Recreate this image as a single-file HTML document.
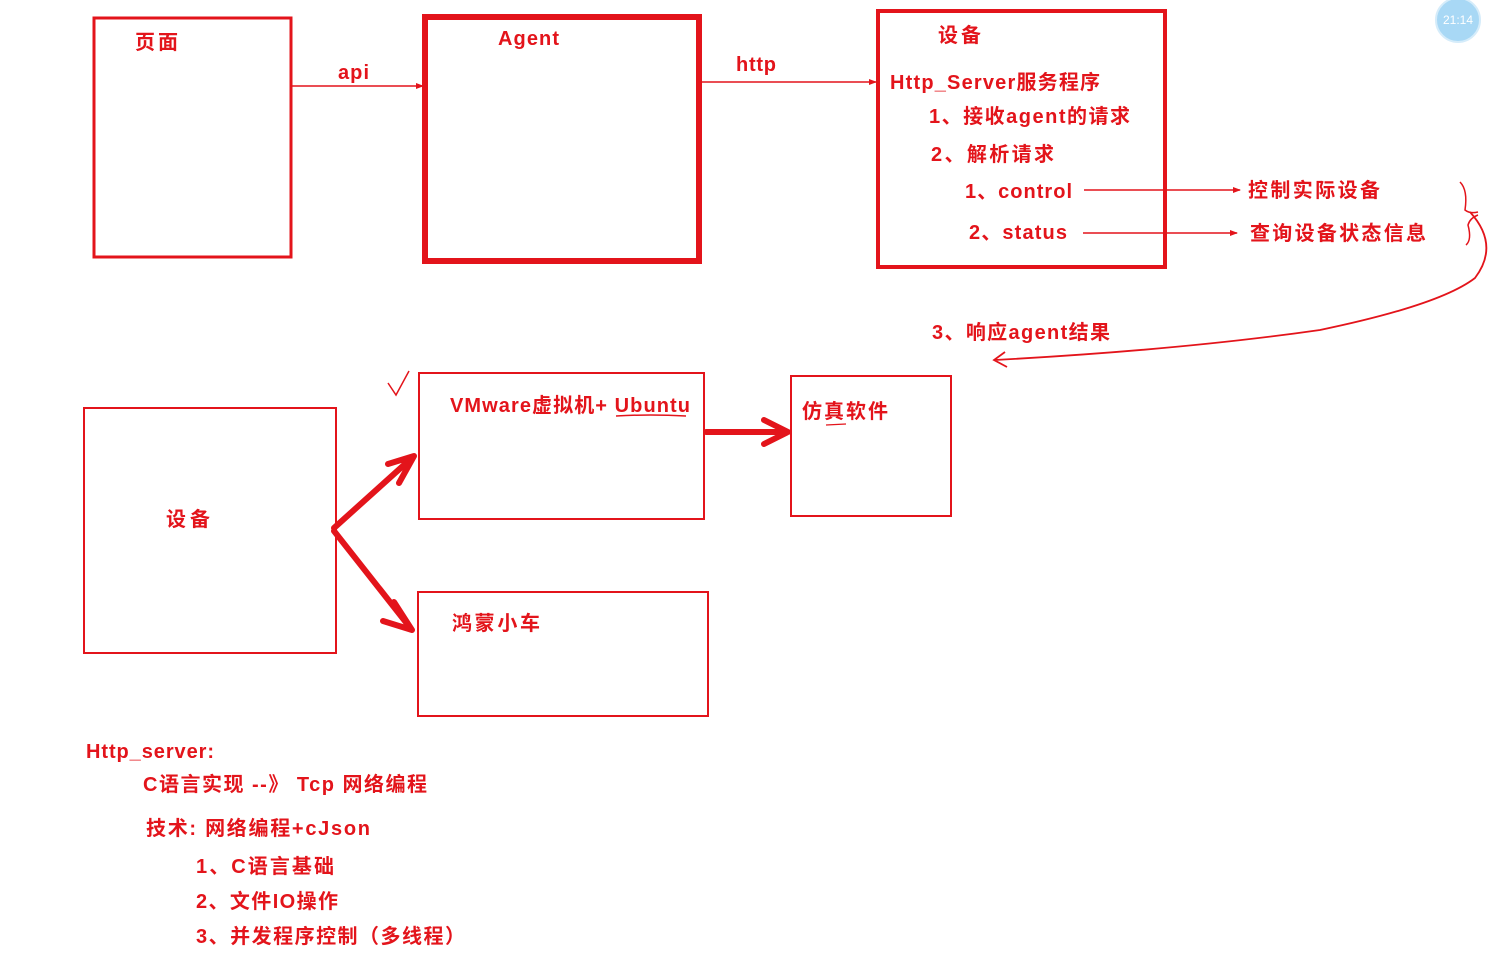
<!DOCTYPE html>
<html><head><meta charset="utf-8"><style>
html,body{margin:0;padding:0;background:#fff;}
svg{display:block;}
text{font-family:"Liberation Sans","Noto Sans CJK SC",sans-serif;font-weight:bold;fill:#e3141b;font-size:20px;}
</style></head><body>
<svg width="1505" height="959" viewBox="0 0 1505 959" xmlns="http://www.w3.org/2000/svg">
<defs>
<marker id="a" markerWidth="8" markerHeight="8" refX="7" refY="4" orient="auto" markerUnits="userSpaceOnUse"><path d="M0,1 L8,4 L0,7 Z" fill="#e3141b"/></marker>
</defs>
<g fill="none" stroke="#e3141b">
<rect x="94" y="18" width="197" height="239" stroke-width="3"/>
<rect x="425" y="17" width="274" height="244" stroke-width="6"/>
<rect x="878" y="11" width="287" height="256" stroke-width="4"/>
<rect x="84" y="408" width="252" height="245" stroke-width="2"/>
<rect x="419" y="373" width="285" height="146" stroke-width="2"/>
<rect x="791" y="376" width="160" height="140" stroke-width="2"/>
<rect x="418" y="592" width="290" height="124" stroke-width="2"/>
<line x1="291" y1="86" x2="423" y2="86" stroke-width="1.5" marker-end="url(#a)"/>
<line x1="700" y1="82" x2="876" y2="82" stroke-width="1.5" marker-end="url(#a)"/>
<line x1="1084" y1="190" x2="1240" y2="190" stroke-width="1.5" marker-end="url(#a)"/>
<line x1="1083" y1="233" x2="1237" y2="233" stroke-width="1.5" marker-end="url(#a)"/>
<path d="M1460,182 Q1468,190 1465,210 Q1470,214 1478,212 M1466,245 Q1472,240 1468,225 Q1470,218 1478,215" stroke-width="1.5"/>
<path d="M1470,212 Q1500,245 1475,278 Q1440,305 1320,330 Q1180,350 995,360 M1005,352 L994,360 L1007,367" stroke-width="1.8"/>
<path d="M388,383 L396,395 L409,371" stroke-width="1.5"/>
<path d="M616,416 Q650,414 686,416" stroke-width="1.5"/>
<path d="M826,425 L846,424" stroke-width="1.2"/>
<g stroke-width="6" stroke-linecap="round" stroke-linejoin="round">
<path d="M334,528 L414,456 M388,464 L414,456 L399,483"/>
<path d="M334,531 L412,630 M394,602 L412,630 L383,621"/>
<path d="M706,432 L788,432 M764,420 L788,432 L764,444"/>
</g>
</g>
<circle cx="1458" cy="20" r="22" fill="#a8d8f5" stroke="#d5ecfa" stroke-width="2"/>
<text x="1458" y="24" text-anchor="middle" style="fill:#fff;font-size:12px;font-weight:normal">21:14</text>
<text x="135" y="49" textLength="43">页面</text>
<text x="338" y="79" textLength="31">api</text>
<text x="498" y="45" textLength="61">Agent</text>
<text x="736" y="71" textLength="40">http</text>
<text x="938" y="42" textLength="43">设备</text>
<text x="890" y="89" textLength="210">Http_Server服务程序</text>
<text x="929" y="123" textLength="201">1、接收agent的请求</text>
<text x="931" y="161" textLength="123">2、解析请求</text>
<text x="965" y="198" textLength="107">1、control</text>
<text x="969" y="239" textLength="98">2、status</text>
<text x="1248" y="197" textLength="132">控制实际设备</text>
<text x="1250" y="240" textLength="176">查询设备状态信息</text>
<text x="932" y="339" textLength="178">3、响应agent结果</text>
<text x="450" y="412" textLength="240">VMware虚拟机+ Ubuntu</text>
<text x="802" y="418" textLength="86">仿真软件</text>
<text x="166" y="526" textLength="44">设备</text>
<text x="452" y="630" textLength="88">鸿蒙小车</text>
<text x="86" y="758" textLength="128">Http_server:</text>
<text x="143" y="791" textLength="284">C语言实现 --》 Tcp 网络编程</text>
<text x="146" y="835" textLength="224">技术: 网络编程+cJson</text>
<text x="196" y="873" textLength="138">1、C语言基础</text>
<text x="196" y="908" textLength="142">2、文件IO操作</text>
<text x="196" y="943" textLength="269">3、并发程序控制（多线程）</text>
</svg>
</body></html>
